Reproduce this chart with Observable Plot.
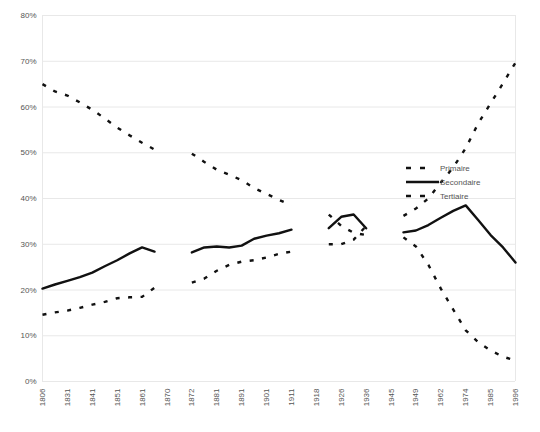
<!DOCTYPE html>
<html>
<head>
<meta charset="utf-8">
<script src="https://cdn.jsdelivr.net/npm/d3@7"></script>
<script src="https://cdn.jsdelivr.net/npm/@observablehq/plot@0.6"></script>
<style>
  html, body { margin: 0; padding: 0; background: #fff; }
  #wrap { position: relative; width: 540px; height: 432px; }
  #legend { position: absolute; left: 0; top: 0; }
  svg text { font-family: "Liberation Sans", Arial, sans-serif; }
</style>
</head>
<body>
<div id="wrap"></div>
<script>
// x-axis tick labels (every other category is labelled)
const tickLabels = ["1806","1831","1841","1851","1861","1870","1872","1881","1891","1901",
                    "1911","1918","1926","1936","1945","1949","1962","1974","1985","1996"];
const yTicks = [0, 10, 20, 30, 40, 50, 60, 70, 80];
const seriesNames = ["Primaire", "Secondaire", "Tertiaire"];

// shares of employment (%), one value per category (39 categories), null = no data
const primaire = [65, 63.4, 62.5, 61, 59.4, 57.5, 55.5, 53.8, 52.2, 50.7,
  null, null,
  49.8, 48, 46.3, 45.2, 44, 42.3, 41, 39.7, 38.5,
  null, null,
  36.5, 34, 32.5, 32,
  null, null,
  31.5, 29.5, 25.5, 20.3, 15.7, 11.2, 8.6, 6.8, 5.4, 4.6];
const secondaire = [20.3, 21.2, 22, 22.8, 23.8, 25.2, 26.5, 28, 29.3, 28.4,
  null, null,
  28.2, 29.3, 29.5, 29.3, 29.7, 31.2, 31.9, 32.4, 33.2,
  null, null,
  33.5, 36, 36.5, 33.5,
  null, null,
  32.6, 33, 34.2, 35.8, 37.3, 38.5, 35.3, 32, 29.3, 26];
const tertiaire = [14.6, 15.1, 15.5, 16.1, 16.8, 17.4, 18.2, 18.4, 18.5, 20.5,
  null, null,
  21.6, 22.5, 24.2, 25.5, 26.2, 26.5, 27.1, 27.9, 28.4,
  null, null,
  30, 30, 31, 34,
  null, null,
  36.2, 37.8, 40, 43.5, 46.8, 51, 56.4, 60.8, 65.2, 69.7];

const n = primaire.length;
const toRows = arr => arr.map((v, i) => ({i, v}));
const tickIdx = tickLabels.map((_, k) => k * 2);

const lineW = 2.4;
const dash = "4,8.5";
const chart = Plot.plot({
  width: 540,
  height: 432,
  marginLeft: 42,
  marginRight: 25,
  marginTop: 15,
  marginBottom: 51,
  style: {fontFamily: "Liberation Sans, Arial, sans-serif", fontSize: "8px", color: "#555", background: "#fff"},
  x: {domain: [0, n - 1], ticks: tickIdx, tickFormat: i => tickLabels[i / 2], tickRotate: -90, tickSize: 0, tickPadding: 7, label: null},
  y: {domain: [0, 80], ticks: yTicks, tickFormat: d => d + "%", tickSize: 0, tickPadding: 6, label: null},
  marks: [
    Plot.ruleY(yTicks, {stroke: "#e8e8e8", strokeWidth: 1}),
    Plot.ruleX([0, n - 1], {stroke: "#e8e8e8", strokeWidth: 1}),
    Plot.line(toRows(primaire), {x: "i", y: "v", stroke: "#111", strokeWidth: lineW, strokeDasharray: dash, strokeLinecap: "butt"}),
    Plot.line(toRows(secondaire), {x: "i", y: "v", stroke: "#111", strokeWidth: lineW}),
    Plot.line(toRows(tertiaire), {x: "i", y: "v", stroke: "#111", strokeWidth: lineW, strokeDasharray: dash, strokeLinecap: "butt"})
  ]
});
const wrap = document.getElementById("wrap");
wrap.appendChild(chart);

// legend inside the plot area
const ns = "http://www.w3.org/2000/svg";
const leg = document.createElementNS(ns, "svg");
leg.setAttribute("id", "legend");
leg.setAttribute("width", 540);
leg.setAttribute("height", 432);
const dashes = ["5,9", null, "5,9"];
seriesNames.forEach((name, k) => {
  const y = 168 + k * 14;
  const l = document.createElementNS(ns, "line");
  l.setAttribute("x1", 406); l.setAttribute("x2", k === 1 ? 439 : 432);
  l.setAttribute("y1", y); l.setAttribute("y2", y);
  l.setAttribute("stroke", "#111"); l.setAttribute("stroke-width", k === 1 ? 2.6 : 2.4);
  if (dashes[k]) l.setAttribute("stroke-dasharray", dashes[k]);
  leg.appendChild(l);
  const t = document.createElementNS(ns, "text");
  t.setAttribute("x", 440); t.setAttribute("y", y + 3);
  t.setAttribute("font-size", "8px"); t.setAttribute("fill", "#555");
  t.textContent = name;
  leg.appendChild(t);
});
wrap.appendChild(leg);
</script>
</body>
</html>
